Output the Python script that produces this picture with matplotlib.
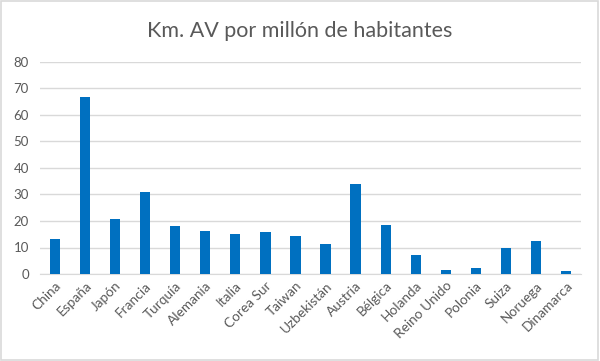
import matplotlib
matplotlib.use("Agg")
import matplotlib.pyplot as plt
from matplotlib.patches import Rectangle

# Datos
paises = ["China", "España", "Japón", "Francia", "Turquía", "Alemania", "Italia",
          "Corea Sur", "Taiwan", "Uzbekistán", "Austria", "Bélgica", "Holanda",
          "Reino Unido", "Polonia", "Suiza", "Noruega", "Dinamarca"]
km_av = [13.2, 66.8, 20.8, 30.9, 18.1, 16.2, 15.1, 15.7, 14.5,
         11.3, 34.0, 18.5, 7.1, 1.5, 2.3, 9.8, 12.5, 1.1]
y_ticks = [0, 10, 20, 30, 40, 50, 60, 70, 80]

plt.rcParams['font.family'] = ['Lato', 'DejaVu Sans']

fig = plt.figure(figsize=(6.0, 3.61), dpi=100)
ax = fig.add_axes([40/600, 87/361, 541/600, 212/361])

x = list(range(len(paises)))
ax.bar(x, km_av, width=0.34, color='#0070C0', zorder=3)

ax.set_xlim(-0.5, len(paises) - 0.5)
ax.set_ylim(0, 80)
ax.set_yticks(y_ticks)
ax.set_yticklabels([str(v) for v in y_ticks], fontsize=9.5, color='#595959')
ax.set_xticks(x)
ax.set_xticklabels(paises, rotation=45, ha='right', rotation_mode='anchor',
                   fontsize=9.8, color='#595959')
ax.tick_params(axis='both', length=0, pad=4)
ax.tick_params(axis='y', pad=8)

ax.grid(axis='y', color='#d9d9d9', linewidth=1, zorder=0)
for s in ['top', 'right', 'left']:
    ax.spines[s].set_visible(False)
ax.spines['bottom'].set_color('#d9d9d9')

fig.text(0.5, 1 - 31/361, "Km. AV por millón de habitantes", ha='center', va='center',
         fontsize=15.5, color='#595959')

# marco del gráfico
fig.patches.append(Rectangle((0.002, 0.003), 0.995, 0.994, transform=fig.transFigure,
                             fill=False, edgecolor='#d9d9d9', linewidth=1.2))

fig.savefig("out.png", dpi=100)
